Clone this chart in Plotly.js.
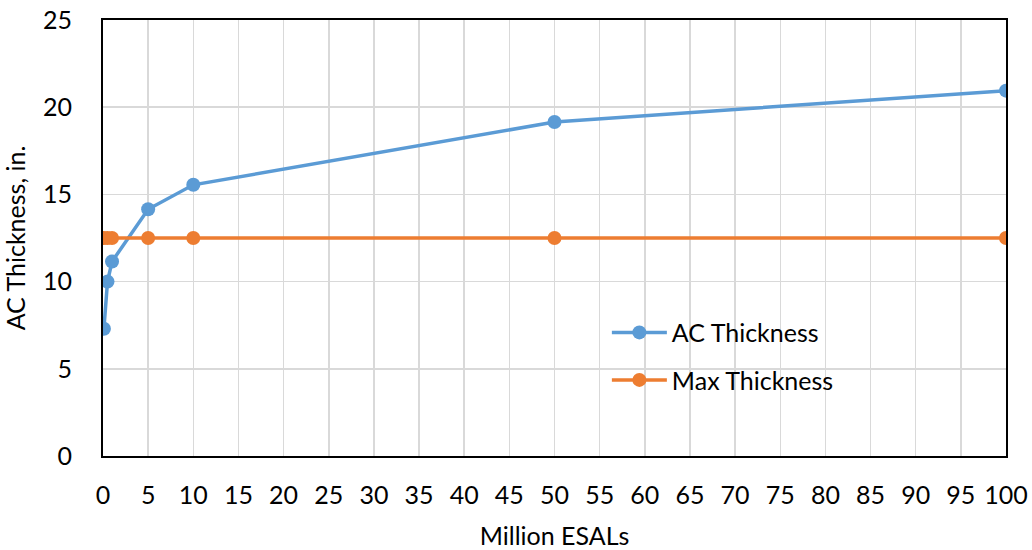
<!DOCTYPE html>
<html>
<head>
<meta charset="utf-8">
<script src="https://cdn.plot.ly/plotly-3.0.1.min.js"></script>
<style>html,body{margin:0;padding:0;background:#fff;}#chart{width:1032px;height:550px;}</style>
</head>
<body>
<div id="chart"></div>
<script>
const esals = [0.1, 0.5, 1, 5, 10, 50, 100];
const acThickness = [7.3, 10.0, 11.15, 14.15, 15.55, 19.15, 20.95];
const maxThickness = [12.5, 12.5, 12.5, 12.5, 12.5, 12.5, 12.5];
const seriesNames = ["AC Thickness", "Max Thickness"];

const font = "Lato, 'Open Sans', sans-serif";
const fs = 25;
const traces = [
  {x: esals, y: acThickness, name: seriesNames[0], type: "scatter", mode: "lines+markers", legendgroup: "a",
   line: {color: "#5B9BD5", width: 3.5}, marker: {color: "#5B9BD5", size: 14}},
  {x: esals, y: maxThickness, name: seriesNames[1], type: "scatter", mode: "lines+markers", legendgroup: "b",
   line: {color: "#ED7D31", width: 3.5}, marker: {color: "#ED7D31", size: 14}}
];
const layout = {
  width: 1032, height: 550,
  margin: {l: 103, r: 26, t: 20, b: 94},
  paper_bgcolor: "#fff", plot_bgcolor: "#fff",
  font: {family: font, size: fs, color: "#000"},
  showlegend: true,
  legend: {x: 0.558, y: 0.229, xanchor: "left", yanchor: "middle", bgcolor: "rgba(0,0,0,0)",
           font: {family: font, size: fs, color: "#000"}, itemwidth: 55, tracegroupgap: 12,
           traceorder: "grouped"},
  xaxis: {range: [0, 100], tickmode: "linear", tick0: 0, dtick: 5,
          showgrid: true, gridcolor: "#d9d9d9", gridwidth: 1.5,
          showline: true, linecolor: "#000", linewidth: 2, mirror: true,
          ticks: "outside", ticklen: 16, tickcolor: "rgba(0,0,0,0)",
          zeroline: false, automargin: false,
          title: {text: "Million ESALs", font: {family: font, size: fs}, standoff: 20}},
  yaxis: {range: [0, 25], tickmode: "linear", tick0: 0, dtick: 5,
          showgrid: true, gridcolor: "#d9d9d9", gridwidth: 1.5,
          showline: true, linecolor: "#000", linewidth: 2, mirror: true,
          ticks: "outside", ticklen: 24, tickcolor: "rgba(0,0,0,0)",
          zeroline: false, automargin: false,
          title: {text: "AC Thickness, in.", font: {family: font, size: fs}, standoff: 14}}
};
Plotly.newPlot("chart", traces, layout, {displayModeBar: false, staticPlot: true});
</script>
</body>
</html>
